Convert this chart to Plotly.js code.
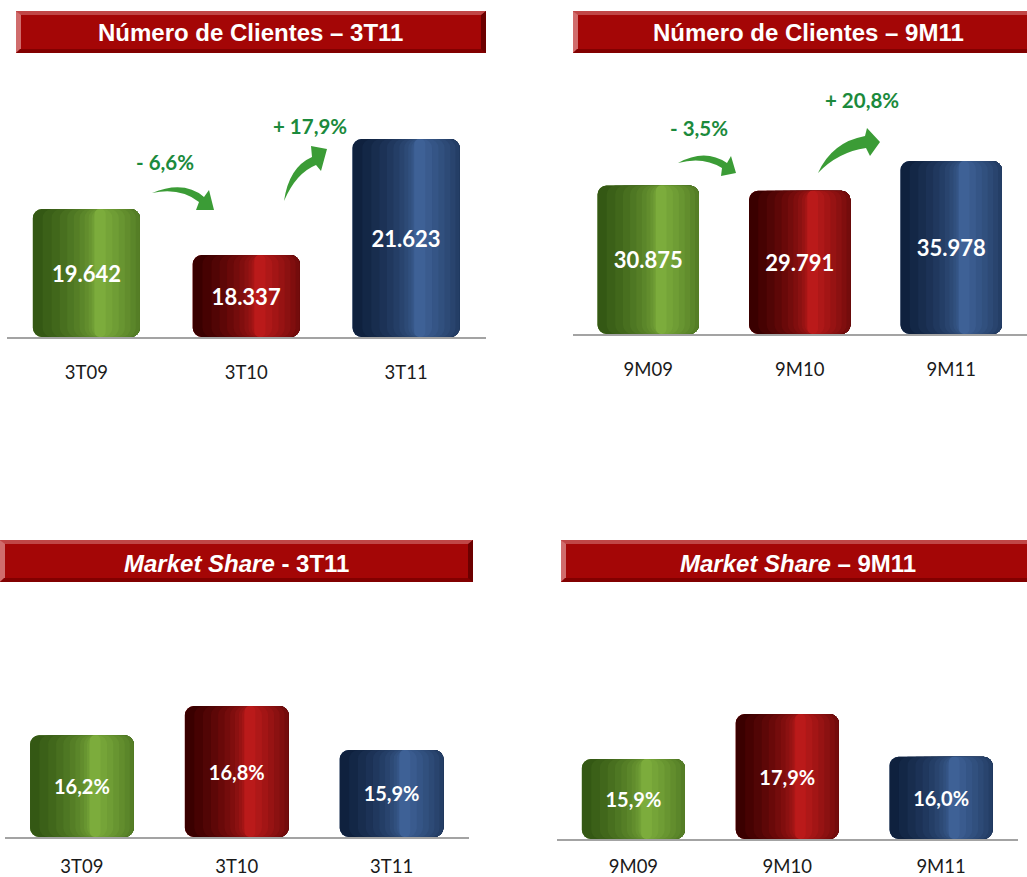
<!DOCTYPE html>
<html>
<head>
<meta charset="utf-8">
<script src="https://cdn.plot.ly/plotly-3.0.1.min.js"></script>
<style>html,body{margin:0;padding:0;background:#fff;}#chart{width:1027px;height:877px;}</style>
</head>
<body>
<div id="chart"></div>
<script>
// ---------- data ----------
const catsQ = ['3T09', '3T10', '3T11'];
const catsM = ['9M09', '9M10', '9M11'];
const clientesQ = [19642, 18337, 21623];
const clientesM = [30875, 29791, 35978];
const shareQ = [16.2, 16.8, 15.9];
const shareM = [15.9, 17.9, 16.0];
const titleTexts = [
  '<b>Número de Clientes – 3T11</b>',
  '<b>Número de Clientes – 9M11</b>',
  '<b><i>Market Share</i> - 3T11</b>',
  '<b><i>Market Share</i> – 9M11</b>'
];

// ---------- style ----------
const W = 1027, H = 877;
const BW = 0.67;
// cylinder shading per category: [left edge, highlight, right edge]
const shades = [
  [[52, 88, 20], [124, 172, 60], [80, 124, 30]],
  [[58, 0, 0], [186, 26, 26], [138, 0, 0]],
  [[15, 33, 62], [62, 97, 150], [30, 58, 104]]
];
const HL = 0.6;      // highlight position across bar width
const NS = 12;       // number of shading strips
const rightLevel = 0.45;
function mix(a, b, t) {
  return 'rgb(' + a.map((v, i) => Math.round(v + (b[i] - v) * t)).join(',') + ')';
}
// build strips: level s from 0 (left edge colour) to 1 (highlight)
const strips = [];
for (let k = 0; k < NS; k++) {
  const s = k / (NS - 1);
  const l = HL * (1 - Math.pow(1 - s, 1.8)) * 0.96 + (k === 0 ? 0 : 0.0);
  let r;
  if (s <= rightLevel) r = 1;
  else r = 1 - (1 - HL) * Math.pow((s - rightLevel) / (1 - rightLevel), 1.2) * 0.8;
  const left = k === 0 ? 0 : Math.min(l, HL - 0.02);
  const right = Math.max(r, HL + 0.04);
  strips.push({l: left, r: right, s: s});
}
function stripColor(ci, s) {
  const sh = shades[ci];
  // colour seen at this level: left gradient until right level, then blend
  return mix(sh[0], sh[1], s);
}

const panels = [
  {cats: catsQ, vals: clientesQ, xd: [6.5, 486], yd: [337, 139], range: [16020, 21623], fmt: '%{customdata:,.0f}', fs: 22, title: [16, 486, 11, 53], tc: [250, 33], so: 18},
  {cats: catsM, vals: clientesM, xd: [572.5, 1027], yd: [334, 161], range: [0, 35978], fmt: '%{customdata:,.0f}', fs: 22, title: [573, 1035, 11, 53], tc: [808, 33], so: 18},
  {cats: catsQ, vals: shareQ, xd: [4.5, 469], yd: [837, 706], range: [14.12, 16.8], fmt: '%{customdata:.1f}%', fs: 20, title: [0, 473, 540, 582], tc: [236, 563], so: 12},
  {cats: catsM, vals: shareM, xd: [556.5, 1018], yd: [839, 714], range: [12.344, 17.9], fmt: '%{customdata:.1f}%', fs: 20, title: [561, 1035, 540, 582], tc: [798, 563], so: 10}
];

const traces = [];
const layout = {
  width: W, height: H,
  margin: {l: 0, r: 0, t: 0, b: 0},
  paper_bgcolor: '#ffffff', plot_bgcolor: 'rgba(0,0,0,0)',
  barmode: 'overlay',
  separators: ',.',
  showlegend: false,
  shapes: [], annotations: []
};

const fx = x => x / W;
const fy = y => 1 - y / H;
function poly(pts) {
  return 'M' + pts.map(p => fx(p[0]) + ',' + fy(p[1])).join(' L') + ' Z';
}

panels.forEach((p, pi) => {
  const s = pi === 0 ? '' : String(pi + 1);
  const base = p.range[0];
  // base bar in right-edge colour
  traces.push({
    type: 'bar', x: p.cats, y: p.vals.map(v => v - base), base: base,
    xaxis: 'x' + s, yaxis: 'y' + s, width: BW,
    marker: {color: p.cats.map((c, i) => mix(shades[i][2], shades[i][2], 0)), cornerradius: 9, line: {width: 0}},
    hoverinfo: 'skip'
  });
  strips.forEach((st, k) => {
    traces.push({
      type: 'bar', x: p.cats, y: p.vals.map(v => v - base), base: base,
      xaxis: 'x' + s, yaxis: 'y' + s,
      width: BW * (st.r - st.l), offset: -BW / 2 + BW * st.l,
      marker: {color: p.cats.map((c, i) => stripColor(i, st.s)), cornerradius: 9, line: {width: 0}},
      hoverinfo: 'skip'
    });
  });
  traces.push({
    type: 'bar', x: p.cats, y: p.vals.map(v => v - base), base: base, customdata: p.vals,
    xaxis: 'x' + s, yaxis: 'y' + s, width: BW,
    marker: {color: 'rgba(0,0,0,0)', line: {width: 0}},
    texttemplate: p.fmt, textposition: 'inside', insidetextanchor: 'middle',
    textfont: {family: 'Lato', size: p.fs, color: '#ffffff', weight: 'bold'},
    constraintext: 'none', cliponaxis: false, hoverinfo: 'skip'
  });
  layout['xaxis' + s] = {
    type: 'category', domain: [fx(p.xd[0]), fx(p.xd[1])], range: [-0.5, 2.5],
    anchor: 'y' + s, showgrid: false, zeroline: false, ticks: '',
    showline: true, linecolor: '#a3a3a3', linewidth: 2,
    tickfont: {family: 'Lato', size: 18.5, color: '#1a1a1a'}, ticklabelstandoff: p.so, fixedrange: true
  };
  layout['yaxis' + s] = {
    domain: [fy(p.yd[0]), fy(p.yd[1])], range: p.range, anchor: 'x' + s,
    visible: false, showgrid: false, zeroline: false, fixedrange: true
  };

  // title bar
  const [x0, x1, y0, y1] = p.title, b = 4;
  layout.shapes.push({type: 'rect', xref: 'paper', yref: 'paper', x0: fx(x0), x1: fx(x1), y0: fy(y1), y1: fy(y0), fillcolor: '#a40606', line: {width: 0}});
  layout.shapes.push({type: 'path', xref: 'paper', yref: 'paper', path: poly([[x0, y0], [x1, y0], [x1 - b, y0 + b], [x0 + b, y0 + b]]), fillcolor: '#c04646', line: {width: 0}});
  layout.shapes.push({type: 'path', xref: 'paper', yref: 'paper', path: poly([[x0, y0], [x0 + b + 1, y0 + b], [x0 + b + 1, y1 - b], [x0, y1]]), fillcolor: '#d06c6c', line: {width: 0}});
  layout.shapes.push({type: 'path', xref: 'paper', yref: 'paper', path: poly([[x0, y1], [x0 + b, y1 - b], [x1 - b, y1 - b], [x1, y1]]), fillcolor: '#820000', line: {width: 0}});
  layout.shapes.push({type: 'path', xref: 'paper', yref: 'paper', path: poly([[x1, y0], [x1, y1], [x1 - b - 1, y1 - b], [x1 - b - 1, y0 + b]]), fillcolor: '#6c0000', line: {width: 0}});
  layout.annotations.push({
    xref: 'paper', yref: 'paper', x: fx(p.tc[0]), y: fy(p.tc[1]), xanchor: 'center', yanchor: 'middle',
    text: titleTexts[pi], showarrow: false,
    font: {family: 'Liberation Sans, Arial, sans-serif', size: 24, color: '#ffffff'}
  });
});

// ---------- growth arrows (first two panels) ----------
function pctLabel(a, b) {
  const c = (b / a - 1) * 100;
  return (c < 0 ? '- ' : '+ ') + Math.abs(c).toFixed(1).replace('.', ',') + '%';
}
function arrowPath(T, c1, A1, B1, P, B2, A2, c2) {
  const q = (pt) => fx(pt[0]) + ',' + fy(pt[1]);
  return 'M' + q(T) + ' Q' + q(c1) + ' ' + q(A1) + ' L' + q(B1) + ' L' + q(P) + ' L' + q(B2) + ' L' + q(A2) + ' Q' + q(c2) + ' ' + q(T) + ' Z';
}
const arrows = [
  {path: arrowPath([152, 193], [184, 180], [204, 197], [209, 190], [214, 210], [196, 210], [199, 202], [180, 187]), label: pctLabel(clientesQ[0], clientesQ[1]), at: [165, 162]},
  {path: arrowPath([284, 201], [289, 167], [312, 157], [311, 146], [327, 149], [321, 171], [316, 165], [296, 173]), label: pctLabel(clientesQ[1], clientesQ[2]), at: [310, 126]},
  {path: arrowPath([678, 163], [705, 148], [727, 163], [731, 156], [736, 173], [721, 176], [722, 168], [703, 156]), label: pctLabel(clientesM[0], clientesM[1]), at: [699, 128]},
  {path: arrowPath([818, 173], [832, 142], [865, 136], [867, 128], [880, 142], [870, 156], [866, 148], [838, 152]), label: pctLabel(clientesM[1], clientesM[2]), at: [862, 100]}
];
arrows.forEach(a => {
  layout.shapes.push({type: 'path', xref: 'paper', yref: 'paper', path: a.path, fillcolor: '#3b9c36', line: {width: 0}});
  layout.annotations.push({
    xref: 'paper', yref: 'paper', x: fx(a.at[0]), y: fy(a.at[1]), xanchor: 'center', yanchor: 'middle',
    text: '<b>' + a.label + '</b>', showarrow: false,
    font: {family: 'Lato', size: 20.5, color: '#1b8a3c'}
  });
});

Plotly.newPlot('chart', traces, layout, {displayModeBar: false, staticPlot: true});
</script>
</body>
</html>
